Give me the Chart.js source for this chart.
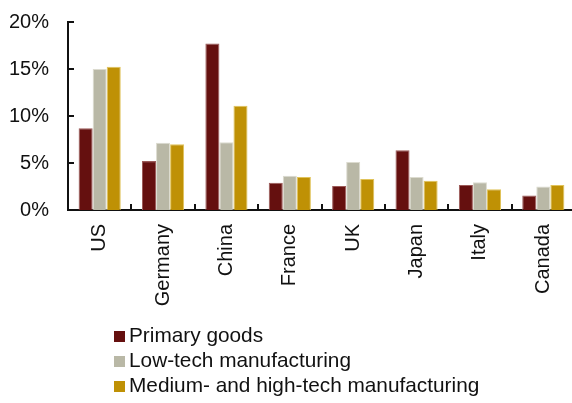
<!DOCTYPE html>
<html>
<head>
<meta charset="utf-8">
<script src="https://cdn.jsdelivr.net/npm/chart.js@4/dist/chart.umd.min.js"></script>
<style>
  html, body { margin:0; padding:0; background:#fff; }
  body { width:572px; height:403px; overflow:hidden; position:relative; font-family:"Liberation Sans", Arial, sans-serif; }
  #wrap { position:absolute; left:0; top:0; width:578px; height:403px; }
  #legenda { position:absolute; left:114px; top:322px; font-size:20.8px; color:#111; }
  #legenda div { height:25px; line-height:25px; white-space:nowrap; }
  #legenda span { display:inline-block; width:11px; height:11px; margin-right:4px; vertical-align:0px; }
</style>
</head>
<body>
<div id="wrap"><canvas id="grafico" width="578" height="403"></canvas></div>
<div id="legenda"></div>
<script>

const paises = ["US", "Germany", "China", "France", "UK", "Japan", "Italy", "Canada"];

const primarios = [8.7, 5.2, 17.7, 2.9, 2.55, 6.35, 2.65, 1.55];
const baixaTec = [15.0, 7.15, 7.2, 3.65, 5.1, 3.5, 2.95, 2.5];
const mediaAltaTec = [15.25, 7.0, 11.1, 3.5, 3.3, 3.1, 2.2, 2.65];

const ticksY = [0, 5, 10, 15, 20];

const series = [
  { label:"Primary goods", data:primarios, cor:"#65100f", borda:"#9c5a58" },
  { label:"Low-tech manufacturing", data:baixaTec, cor:"#b9b8a6", borda:"#dcdbcf" },
  { label:"Medium- and high-tech manufacturing", data:mediaAltaTec, cor:"#bf9105", borda:"#e0c35a" }
];

// marcas internas nos eixos
const marcasInternas = {
  id:"marcasInternas",
  afterDraw(chart){
    const ctx = chart.ctx;
    const x = chart.scales.x;
    const y = chart.scales.y;
    ctx.save();
    ctx.strokeStyle = "#111";
    ctx.lineWidth = 2;
    const w = (x.right - x.left) / paises.length;
    for(let i = 1; i < paises.length; i++){
      const px = Math.round(x.left + i * w);
      ctx.beginPath();
      ctx.moveTo(px, y.bottom);
      ctx.lineTo(px, y.bottom - 6);
      ctx.stroke();
    }
    ticksY.forEach(v => {
      const py = Math.round(y.getPixelForValue(v));
      ctx.beginPath();
      ctx.moveTo(x.left, py);
      ctx.lineTo(x.left + 6, py);
      ctx.stroke();
    });
    ctx.restore();
  }
};

const ctx = document.getElementById("grafico");

new Chart(ctx, {
  type:"bar",
  data:{
    labels:paises,
    datasets:series.map(s => ({
      label:s.label,
      data:s.data,
      backgroundColor:s.cor,
      borderColor:s.borda,
      borderWidth:1,
      categoryPercentage:0.665,
      barPercentage:1.0
    }))
  },
  options:{
    responsive:false,
    animation:false,
    devicePixelRatio:1,
    layout:{ padding:{ top:22, right:3, left:0, bottom:0 } },
    plugins:{
      legend:{ display:false },
      tooltip:{ enabled:false }
    },
    scales:{
      x:{
        grid:{ display:false, drawTicks:false },
        border:{ display:true, color:"#111", width:2 },
        ticks:{
          color:"#111",
          font:{ family:"Liberation Sans", size:20 },
          minRotation:90,
          maxRotation:90,
          padding:14
        },
        afterFit(scale){
          scale.height = 193;
          scale.paddingLeft = 0;
          scale.paddingRight = 0;
        }
      },
      y:{
        min:0,
        max:20,
        afterBuildTicks(scale){ scale.ticks = ticksY.map(v => ({ value:v })); },
        grid:{ display:false, drawTicks:false },
        border:{ display:true, color:"#111", width:2 },
        ticks:{
          color:"#111",
          font:{ family:"Liberation Sans", size:20 },
          padding:19,
          callback:v => v + "%"
        },
        afterFit(scale){
          scale.width = 68;
          scale.paddingTop = 0;
          scale.paddingBottom = 0;
        }
      }
    }
  },
  plugins:[marcasInternas]
});

// legenda
const legenda = document.getElementById("legenda");
series.forEach(s => {
  const linha = document.createElement("div");
  linha.innerHTML = `<span style="background:${s.cor}"></span>${s.label}`;
  legenda.appendChild(linha);
});

</script>
</body>
</html>
